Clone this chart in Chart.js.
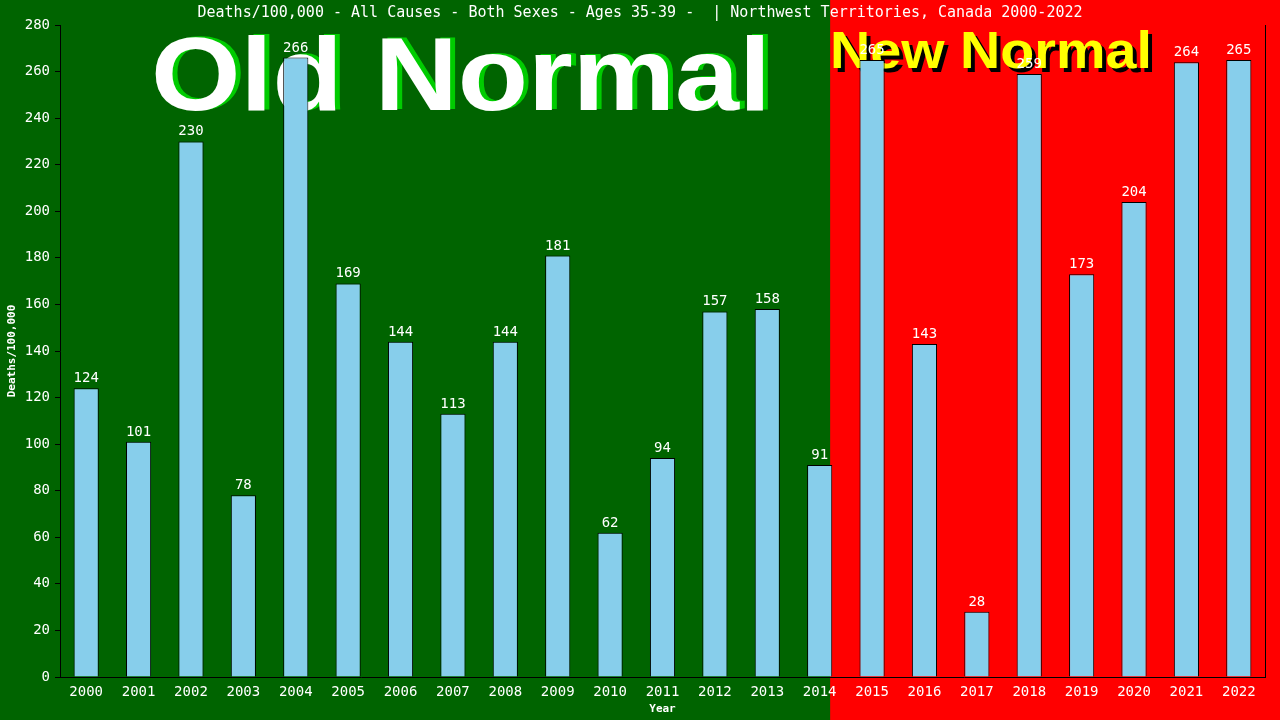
<!DOCTYPE html>
<html>
<head>
<meta charset="utf-8">
<script src="https://cdn.jsdelivr.net/npm/chart.js@4"></script>
<style>
    html, body { margin: 0; padding: 0; background: #006400; }
    #chart { display: block; }
</style>
</head>
<body>
<canvas id="chart" width="1280" height="720"></canvas>
<script>
// Chart data
const years = ['2000', '2001', '2002', '2003', '2004', '2005', '2006', '2007', '2008', '2009', '2010', '2011',
    '2012', '2013', '2014', '2015', '2016', '2017', '2018', '2019', '2020', '2021', '2022'];
const deathRates = [124, 101, 230, 78, 266, 169, 144, 113, 144, 181, 62, 94,
    157, 158, 91, 265, 143, 28, 259, 173, 204, 264, 265];
const lastOldNormalIndex = 14;

const titleText = 'Deaths/100,000 - All Causes - Both Sexes - Ages 35-39 -  | Northwest Territories, Canada 2000-2022';
const monoFont = '"DejaVu Sans Mono", "Liberation Mono", monospace';

// Green / red halves behind the plot
const backgroundPlugin = {
    id: 'halves',
    beforeDraw(chart) {
        const { ctx, width, height } = chart;
        const x = chart.scales.x;
        const step = x.getPixelForValue(1) - x.getPixelForValue(0);
        const splitX = x.getPixelForValue(lastOldNormalIndex) + step * 0.2;
        ctx.save();
        ctx.fillStyle = '#006400';
        ctx.fillRect(0, 0, width, height);
        ctx.fillStyle = '#ff0000';
        ctx.fillRect(splitX, 0, width - splitX, height);
        ctx.restore();
    }
};

// Draw text stretched to a given width
function stretchedText(ctx, text, left, baseline, targetWidth) {
    const w = ctx.measureText(text).width;
    ctx.save();
    ctx.translate(left, baseline);
    ctx.scale(targetWidth / w, 1);
    ctx.fillText(text, 0, 0);
    ctx.restore();
}

// "Old Normal" / "New Normal" banners, behind the bars
const bannerPlugin = {
    id: 'banners',
    beforeDatasetsDraw(chart) {
        const ctx = chart.ctx;
        ctx.save();
        ctx.textAlign = 'left';
        ctx.textBaseline = 'alphabetic';

        ctx.font = 'bold 104px "Liberation Sans", Arial, sans-serif';
        ctx.fillStyle = '#00cc00';
        stretchedText(ctx, 'Old Normal', 156, 109, 620);
        ctx.fillStyle = '#ffffff';
        stretchedText(ctx, 'Old Normal', 151, 110, 620);

        ctx.font = 'bold 52px "Liberation Sans", Arial, sans-serif';
        ctx.fillStyle = '#000000';
        stretchedText(ctx, 'New Normal', 834, 72, 322);
        ctx.fillStyle = '#ffff00';
        stretchedText(ctx, 'New Normal', 830, 68, 322);
        ctx.restore();
    }
};

// Title, axis titles, value labels and right border
const labelPlugin = {
    id: 'labels',
    afterDatasetsDraw(chart) {
        const { ctx, chartArea } = chart;
        const meta = chart.getDatasetMeta(0);
        ctx.save();
        ctx.fillStyle = '#ffffff';
        ctx.textAlign = 'center';
        ctx.textBaseline = 'alphabetic';
        ctx.font = '14px ' + monoFont;
        meta.data.forEach((bar, i) => {
            ctx.fillText(String(deathRates[i]), bar.x, bar.y - 6);
        });

        ctx.font = '15px ' + monoFont;
        ctx.textBaseline = 'middle';
        ctx.fillText(titleText, 640, 13);

        ctx.font = 'bold 11px ' + monoFont;
        ctx.fillText('Year', (chartArea.left + chartArea.right) / 2, 709);
        ctx.save();
        ctx.translate(12, 351);
        ctx.rotate(-Math.PI / 2);
        ctx.fillText('Deaths/100,000', 0, 0);
        ctx.restore();

        ctx.strokeStyle = '#000000';
        ctx.lineWidth = 1;
        ctx.beginPath();
        ctx.moveTo(chartArea.right + 0.5, chartArea.top);
        ctx.lineTo(chartArea.right + 0.5, chartArea.bottom);
        ctx.stroke();
        ctx.restore();
    }
};

new Chart(document.getElementById('chart'), {
    type: 'bar',
    data: {
        labels: years,
        datasets: [{
            data: deathRates,
            backgroundColor: '#87ceeb',
            borderColor: '#000000',
            borderWidth: 1,
            borderSkipped: 'bottom',
            categoryPercentage: 1,
            barPercentage: 0.48
        }]
    },
    options: {
        responsive: false,
        devicePixelRatio: 1,
        animation: false,
        layout: { padding: { top: 25, right: 15, left: 0, bottom: 0 } },
        plugins: {
            legend: { display: false },
            tooltip: { enabled: false }
        },
        scales: {
            x: {
                grid: { drawOnChartArea: false, drawTicks: false },
                border: { display: true, color: '#000000', width: 1 },
                ticks: { color: '#ffffff', font: { family: monoFont, size: 14 }, padding: 7, maxRotation: 0 },
                afterFit(scale) { scale.height = 43; }
            },
            y: {
                min: 0,
                max: 280,
                grid: { drawOnChartArea: false, drawTicks: true, tickLength: 5, color: '#000000' },
                border: { display: true, color: '#000000', width: 1 },
                ticks: { stepSize: 20, color: '#ffffff', font: { family: monoFont, size: 14 }, padding: 5 },
                afterFit(scale) { scale.width = 60; }
            }
        }
    },
    plugins: [backgroundPlugin, bannerPlugin, labelPlugin]
});
</script>
</body>
</html>
